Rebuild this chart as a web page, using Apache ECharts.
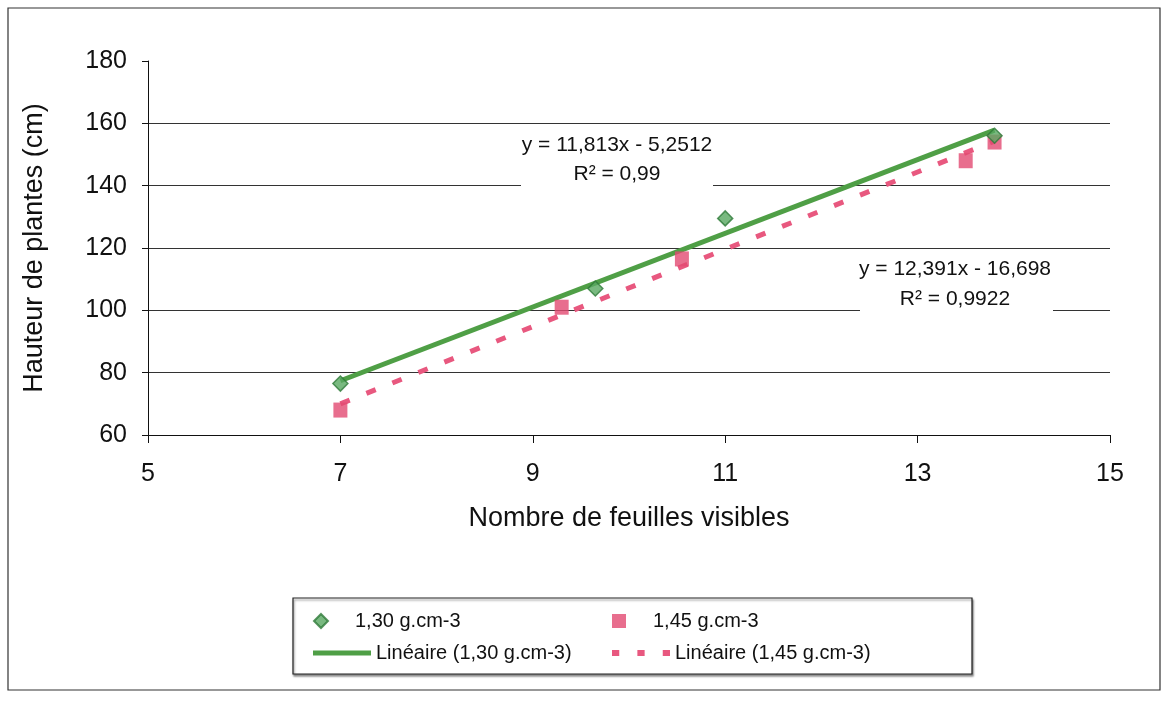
<!DOCTYPE html>
<html>
<head>
<meta charset="utf-8">
<script src="https://cdn.jsdelivr.net/npm/echarts@6/dist/echarts.min.js"></script>
<style>
  html, body { margin: 0; padding: 0; background: #fff; }
  #chart { width: 1164px; height: 704px; }
</style>
</head>
<body>
<div id="chart"></div>
<script>
// ---- data ----
const seriesNames = ['1,30 g.cm-3', '1,45 g.cm-3', 'Linéaire (1,30 g.cm-3)', 'Linéaire (1,45 g.cm-3)'];
const densA_x = [7, 9.65, 11, 13.8];
const densA_y = [76.5, 107, 129.5, 156];
const densB_x = [7, 9.3, 10.55, 13.5, 13.8];
const densB_y = [68, 101, 116.5, 148, 154];
// trend line end points (x range of data)
const trendA_x = [7, 13.8];
const trendA_y = [77.4, 157.8];
const trendB_x = [7, 13.8];
const trendB_y = [70.0, 154.3];
const eqA = ['y = 11,813x - 5,2512', 'R² = 0,99'];
const eqB = ['y = 12,391x - 16,698', 'R² = 0,9922'];
const xTitle = 'Nombre de feuilles visibles';
const yTitle = 'Hauteur de plantes (cm)';

const pairs = (xs, ys) => xs.map((x, i) => [x, ys[i]]);

const FONT = '"Liberation Sans", Arial, sans-serif';
const GREEN = '#4f9f46';
const GREEN_DARK = '#2f7a3a';
const PINK = '#e24a72';
const PINK_LINE = '#e8587f';

const diamondPath = 'path://M0,-1L1,0L0,1L-1,0Z';
const squarePath = 'path://M0,0L1,0L1,1L0,1Z';
const solidLinePath = 'path://M0,0H12V1H0Z';
const dashLinePath = 'path://M0,0H6V5H0Z M21,0H27V5H21Z M42,0H48V5H42Z';

function legendItem(name, icon, left, top) {
  return {
    left: left, top: top, itemWidth: 58, itemHeight: 14, itemGap: 0,
    padding: 0, selectedMode: false, symbolKeepAspect: true,
    textStyle: { fontFamily: FONT, fontSize: 20, color: '#111' },
    data: [{ name: name, icon: icon }]
  };
}

const chart = echarts.init(document.getElementById('chart'), null, { renderer: 'canvas' });

chart.setOption({
  backgroundColor: '#fff',
  animation: false,
  textStyle: { fontFamily: FONT },
  grid: { left: 148, top: 61, width: 962, height: 374, containLabel: false },
  xAxis: {
    type: 'value', min: 5, max: 15, interval: 2,
    name: xTitle, nameLocation: 'middle', nameGap: 70,
    nameTextStyle: { fontFamily: FONT, fontSize: 27, color: '#111' },
    axisLine: { show: true, onZero: false, lineStyle: { color: '#111', width: 1 } },
    axisTick: { show: true, inside: false, length: 8, lineStyle: { color: '#111' } },
    axisLabel: { fontFamily: FONT, fontSize: 25, color: '#111', margin: 27 },
    splitLine: { show: false }
  },
  yAxis: {
    type: 'value', min: 60, max: 180, interval: 20,
    name: yTitle, nameLocation: 'middle', nameGap: 100, nameRotate: 90,
    nameTextStyle: { fontFamily: FONT, fontSize: 27, color: '#111' },
    axisLine: { show: true, onZero: false, lineStyle: { color: '#111', width: 1 } },
    axisTick: { show: true, inside: false, length: 6, lineStyle: { color: '#111' } },
    axisLabel: { fontFamily: FONT, fontSize: 25, color: '#111', margin: 21 },
    splitLine: { show: true, showMaxLine: false, showMinLine: false, lineStyle: { color: '#333', width: 1 } }
  },
  legend: [
    legendItem(seriesNames[0], diamondPath, 313, 611),
    legendItem(seriesNames[1], squarePath, 612, 611),
    legendItem(seriesNames[2], solidLinePath, 313, 643),
    legendItem(seriesNames[3], dashLinePath, 612, 643)
  ],
  graphic: [
    { type: 'rect', z: -10, silent: true, shape: { x: 8, y: 8, width: 1152, height: 682 },
      style: { fill: '#fff', stroke: '#333', lineWidth: 1.2 } },
    { type: 'rect', z: 1, silent: true, shape: { x: 293, y: 598, width: 679, height: 76 },
      style: { fill: '#fff', stroke: '#222', lineWidth: 1.2, shadowBlur: 2, shadowOffsetX: 1, shadowOffsetY: 2, shadowColor: 'rgba(0,0,0,0.45)' } },
    { type: 'rect', z: 50, silent: true, shape: { x: 521, y: 131, width: 192, height: 60 }, style: { fill: '#fff' } },
    { type: 'text', z: 51, silent: true, left: 617 - 100, top: 131,
      style: { text: eqA.join('\n'), width: 200, align: 'center', textAlign: 'center', x: 100, font: '21px ' + FONT, fill: '#111', lineHeight: 29 } },
    { type: 'rect', z: 50, silent: true, shape: { x: 860, y: 254, width: 193, height: 60 }, style: { fill: '#fff' } },
    { type: 'text', z: 51, silent: true, left: 955 - 100, top: 254,
      style: { text: eqB.join('\n'), width: 200, align: 'center', textAlign: 'center', x: 100, font: '21px ' + FONT, fill: '#111', lineHeight: 30 } }
  ],
  series: [
    {
      name: seriesNames[0], type: 'scatter', data: pairs(densA_x, densA_y),
      symbol: 'diamond', symbolSize: [15, 15], z: 4,
      itemStyle: { color: '#58a860', borderColor: GREEN_DARK, borderWidth: 1.5 }
    },
    {
      name: seriesNames[1], type: 'scatter', data: pairs(densB_x, densB_y),
      symbol: 'rect', symbolSize: [14, 15], z: 3,
      itemStyle: { color: PINK }
    },
    {
      name: seriesNames[2], type: 'line', data: pairs(trendA_x, trendA_y),
      symbol: 'none', z: 3,
      lineStyle: { color: GREEN, width: 5 }, itemStyle: { color: GREEN }
    },
    {
      name: seriesNames[3], type: 'line', data: pairs(trendB_x, trendB_y),
      symbol: 'none', z: 3,
      lineStyle: { color: PINK_LINE, width: 5, type: [10, 18], cap: 'butt' }, itemStyle: { color: PINK_LINE }
    }
  ]
});
</script>
</body>
</html>
